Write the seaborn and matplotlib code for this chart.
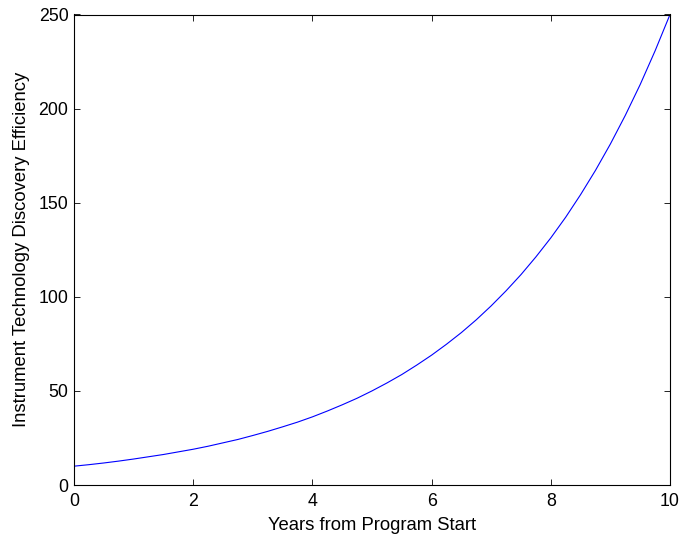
import matplotlib
matplotlib.use("Agg")
import matplotlib.pyplot as plt
import seaborn as sns
import pandas as pd

# Discovery efficiency sampled every quarter year over the program
years = [0, 0.25, 0.5, 0.75, 1, 1.25, 1.5, 1.75, 2, 2.25, 2.5, 2.75, 3, 3.25, 3.5, 3.75,
         4, 4.25, 4.5, 4.75, 5, 5.25, 5.5, 5.75, 6, 6.25, 6.5, 6.75, 7, 7.25, 7.5, 7.75,
         8, 8.25, 8.5, 8.75, 9, 9.25, 9.5, 9.75, 10]
efficiency = [10.0, 10.8, 11.7, 12.7, 13.8, 15.0, 16.2, 17.6, 19.0, 20.6, 22.4, 24.2,
              26.3, 28.5, 30.9, 33.4, 36.2, 39.3, 42.6, 46.1, 50.0, 54.2, 58.7, 63.7,
              69.0, 74.8, 81.0, 87.8, 95.2, 103.2, 111.8, 121.2, 131.3, 142.3, 154.3,
              167.2, 181.2, 196.4, 212.8, 230.7, 250.0]
x_ticks = [0, 2, 4, 6, 8, 10]
y_ticks = [0, 50, 100, 150, 200, 250]

sns.set_style("ticks")
plt.rcParams["font.family"] = ["Liberation Sans", "DejaVu Sans"]
plt.rcParams["text.color"] = "black"
plt.rcParams["axes.labelcolor"] = "black"

TICK_FS = 12.8
LABEL_FS = 13.3

df = pd.DataFrame({"Years": years, "Efficiency": efficiency})

fig = plt.figure(figsize=(6.81, 5.37), dpi=100)
ax = fig.add_axes([74 / 681, 1 - 485 / 537, (670 - 74) / 681, (485 - 14.5) / 537])

sns.lineplot(data=df, x="Years", y="Efficiency", ax=ax, color="#0000ff",
             linewidth=0.8, estimator=None, sort=False)

ax.set_xlim(0, 10)
ax.set_ylim(0, 250)
ax.set_xticks(x_ticks)
ax.set_yticks(y_ticks)
ax.set_xlabel("Years from Program Start", fontsize=LABEL_FS, labelpad=5,
              color="black")
ax.set_ylabel("Instrument Technology Discovery Efficiency", fontsize=LABEL_FS,
              labelpad=6.5, color="black")

for side in ["top", "right", "bottom", "left"]:
    ax.spines[side].set_visible(True)
    ax.spines[side].set_color("black")
    ax.spines[side].set_linewidth(0.8)

ax.tick_params(direction="in", length=4.5, width=0.6, top=True, right=True,
               labelsize=TICK_FS, colors="black", labelcolor="black")
ax.tick_params(axis="x", pad=6)
ax.tick_params(axis="y", pad=4)

fig.savefig("out.png", dpi=100, facecolor="white")
